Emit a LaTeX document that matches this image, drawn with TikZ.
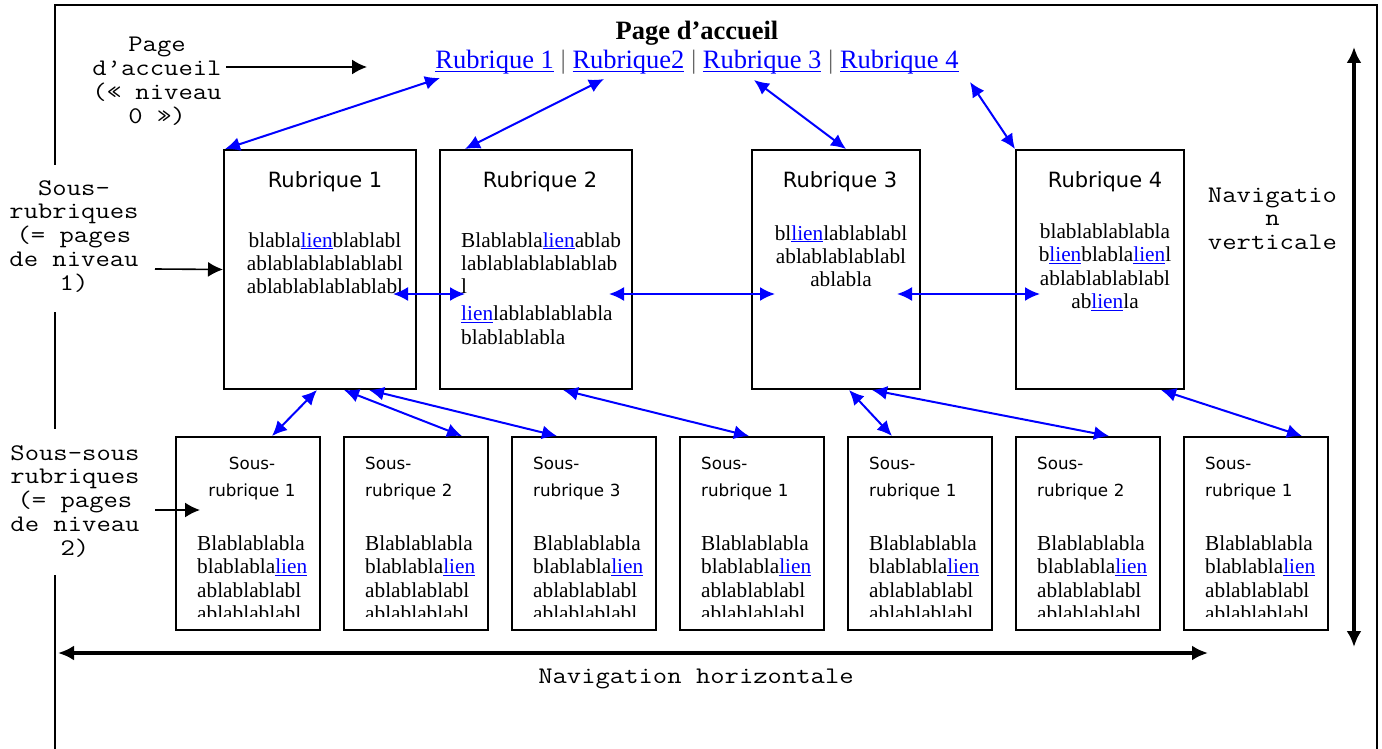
\documentclass[tikz,border=0pt]{standalone}
\usepackage{fontspec}
\usepackage{graphicx}
\setmainfont{Liberation Serif}
\newfontfamily\comicfam{DejaVu Sans}
\usetikzlibrary{arrows.meta}
\definecolor{lnkblue}{RGB}{0,0,255}
\newcommand\lnk[1]{\textcolor{lnkblue}{\setbox0\hbox{#1}\rlap{\rule[-0.11em]{\wd0}{0.05em}}\box0}}
\newcommand\monolines[1]{\scalebox{1.17}[1]{\begin{tabular}[t]{@{}c@{}}#1\end{tabular}}}
\tikzset{
  pagebox/.style={draw, line width=2pt, inner sep=0pt},
  bluearr/.style={draw=lnkblue, line width=2pt, {Latex[length=15pt,width=14pt]}-{Latex[length=15pt,width=14pt]}},
  blackarr/.style={line width=1.6pt, -{Latex[length=15pt,width=15pt]}},
  navarr/.style={line width=3.5pt, {Latex[length=16pt,width=15pt]}-{Latex[length=16pt,width=15pt]}},
  serifc/.style={font=\fontsize{21.3}{23.5}\selectfont, inner sep=0pt, text width=200pt, align=center, anchor=base},
  serifl/.style={font=\fontsize{21.3}{23.5}\selectfont, inner sep=0pt, text width=200pt, align=left, anchor=base west},
  titlefont/.style={font=\comicfam\fontsize{21}{25}\selectfont, inner sep=0pt, anchor=base},
  subtitlec/.style={font=\comicfam\fontsize{16.7}{27}\selectfont, inner sep=0pt, text width=140pt, align=center, anchor=base},
  subtitlel/.style={font=\comicfam\fontsize{16.7}{27}\selectfont, inner sep=0pt, text width=140pt, align=left, anchor=base west},
  monolabel/.style={font=\ttfamily\fontsize{23.8}{23.8}\selectfont, inner sep=0pt, anchor=base},
}
\begin{document}
\begin{tikzpicture}[x=1pt,y=-1pt]
\useasboundingbox (0,0) rectangle (1382,749);

% outer frame
\draw[line width=1.8pt] (55,749) -- (55,5) -- (1377,5) -- (1377,749);

% header
\node[font=\bfseries\fontsize{26.5}{30}\selectfont, inner sep=0pt, anchor=base] (home) at (697,40) {Page d’accueil};
\node[font=\fontsize{26.5}{30}\selectfont, inner sep=0pt, anchor=base] (menu) at (697,69)
  {\lnk{Rubrique 1} \textcolor{black!60}{|} \lnk{Rubrique2} \textcolor{black!60}{|} \lnk{Rubrique 3} \textcolor{black!60}{|} \lnk{Rubrique 4}};

% level-1 boxes
\node[pagebox, minimum width=192pt, minimum height=239pt] (r1) at (320,269.5) {};
\node[pagebox, minimum width=192pt, minimum height=239pt] (r2) at (536,269.5) {};
\node[pagebox, minimum width=168pt, minimum height=239pt] (r3) at (836,269.5) {};
\node[pagebox, minimum width=168pt, minimum height=239pt] (r4) at (1100,269.5) {};

\node[titlefont] (t1) at (325,187) {Rubrique 1};
\node[titlefont] (t2) at (540,187) {Rubrique 2};
\node[titlefont] (t3) at (840,187) {Rubrique 3};
\node[titlefont] (t4) at (1105,187) {Rubrique 4};

\node[serifc] (b1) at (325,247) {blabla\lnk{lien}blablabl\\ablablablablablabl\\ablablablablablabl};
\node[serifl] (b2) at (461,247) {Blablabla\lnk{lien}ablab\\lablablablablablab\\l\\[3pt]\lnk{lien}lablablablabla\\blablablabla};
\node[serifc] (b3) at (841,240) {bl\lnk{lien}lablablabl\\ablablablablabl\\ablabla};
\node[serifc] (b4) at (1105,238) {blablablablabla\\b\lnk{lien}blabla\lnk{lien}l\\ablablablablabl\\ab\lnk{lien}la};

% level-2 boxes
\foreach \i/\num in {1/1,2/2,3/3,4/1,5/1,6/2,7/1} {
  \pgfmathsetmacro\L{176+168*(\i-1)}
  \node[pagebox, minimum width=144pt, minimum height=193pt] (s\i) at (\L+72,533.5) {};
  \ifnum\i=1
    \node[subtitlec] (st\i) at (252,469) {Sous-\\rubrique \num};
  \else
    \node[subtitlel] (st\i) at (\L+21,469) {Sous-\\rubrique \num};
  \fi
  \begin{scope}
    \clip (\L,437) rectangle (\L+144,616.5);
    \node[serifl] (sb\i) at (\L+21,550) {Blablablabla\\blablabla\lnk{lien}\\ablablablabl\\ablablablabl};
  \end{scope}
}

% links from home page to level-1 pages
\coordinate (h1) at (440,78);
\coordinate (h2) at (604,79);
\coordinate (h3) at (754,80);
\coordinate (h4) at (970,82);
\draw[bluearr] ([xshift=2pt]r1.north west) -- (h1);
\draw[bluearr] ([xshift=26pt]r2.north west) -- (h2);
\draw[bluearr] ([xshift=95pt]r3.north west) -- (h3);
\draw[bluearr] (r4.north west) -- (h4);

% horizontal links between level-1 pages
\coordinate (l1a) at (393,294); \coordinate (l1b) at (465,294);
\coordinate (l2a) at (609,294); \coordinate (l2b) at (775,294);
\coordinate (l3a) at (897,294); \coordinate (l3b) at (1040,294);
\draw[bluearr] (l1a) -- (l1b);
\draw[bluearr] (l2a) -- (l2b);
\draw[bluearr] (l3a) -- (l3b);

% links level-1 to level-2
\draw[bluearr] ([xshift=94pt]r1.south west) -- ([xshift=97pt]s1.north west);
\draw[bluearr] ([xshift=121pt]r1.south west) -- ([xshift=119pt]s2.north west);
\draw[bluearr] ([xshift=146pt]r1.south west) -- ([xshift=46pt]s3.north west);
\draw[bluearr] ([xshift=124pt]r2.south west) -- ([xshift=70pt]s4.north west);
\draw[bluearr] ([xshift=98pt]r3.south west) -- ([xshift=45pt]s5.north west);
\draw[bluearr] ([xshift=121pt]r3.south west) -- ([xshift=94pt]s6.north west);
\draw[bluearr] ([xshift=146pt]r4.south west) -- ([xshift=119pt]s7.north west);

% left labels
\fill[white] (5,165) rectangle (145,312);
\fill[white] (5,429) rectangle (145,575);
\node[monolabel] (lab0) at (157,52) {\monolines{Page\\d’accueil\\(« niveau\\0 »)}};
\node[monolabel] (lab1) at (74,195) {\monolines{Sous-\\rubriques\\(= pages\\de niveau\\1)}};
\node[monolabel] (lab2) at (75,460) {\monolines{Sous-sous\\rubriques\\(= pages\\de niveau\\2)}};
\coordinate (p0a) at (226,67); \coordinate (p0b) at (367,67);
\coordinate (p1a) at (155,269);
\coordinate (p2a) at (155,510); \coordinate (p2b) at (200,510);
\draw[blackarr] (p0a) -- (p0b);
\draw[blackarr] (p1a) -- (r1.west);
\draw[blackarr] (p2a) -- (p2b);

% navigation labels and arrows
\fill[white] (1184.8,173) rectangle (1346,272);
\node[monolabel] (navv) at (1272.5,202) {\monolines{Navigatio\\n\\verticale}};
\node[monolabel] (navh) at (696,683) {\monolines{Navigation horizontale}};
\coordinate (vt) at (1354,47); \coordinate (vb) at (1354,647);
\coordinate (hl) at (58,653); \coordinate (hr) at (1208,653);
\draw[navarr] (vt) -- (vb);
\draw[navarr] (hl) -- (hr);
\end{tikzpicture}
\end{document}
